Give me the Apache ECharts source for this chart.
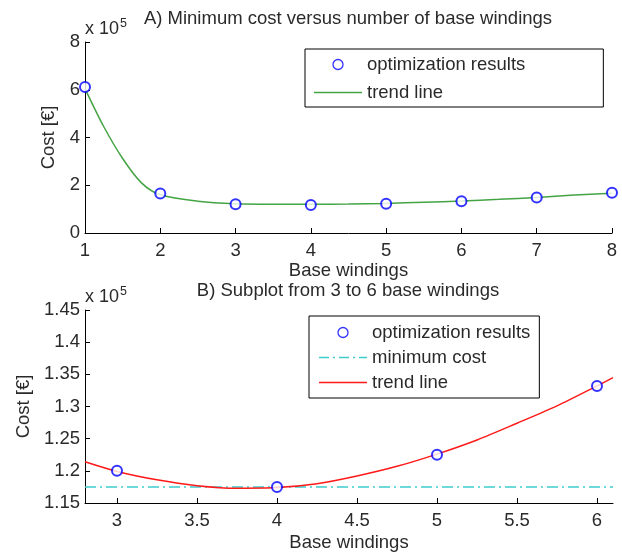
<!DOCTYPE html>
<html>
<head>
<meta charset="utf-8">
<script src="https://cdn.jsdelivr.net/npm/echarts@6/dist/echarts.min.js"></script>
<style>
  html, body { margin: 0; padding: 0; background: #ffffff; }
  #chart { width: 622px; height: 553px; }
</style>
</head>
<body>
<div id="chart"></div>
<script>
// Number of base windings and optimised cost (EUR)
const windings = [1, 2, 3, 4, 5, 6, 7, 8];
const optimalCost = [612000, 165000, 120000, 117500, 122500, 133200, 149000, 169000];

// Fitted trend over the full range (x, EUR)
const trendX = [1, 1.25, 1.5, 1.75, 2, 2.5, 3, 3.5, 4, 4.5, 5, 5.5, 6, 6.5, 7, 7.5, 8];
const trendCost = [605000, 445000, 312000, 210000, 160000, 133000, 122000, 120000, 120000, 121000, 124000, 129000, 134000, 141000, 149000, 159000, 167000];

// Close-up between 3 and 6 windings
const zoomWindings = [3, 4, 5, 6];
const zoomCost = [120000, 117500, 122500, 133200];
const zoomTrendX = [2.8, 3, 3.25, 3.5, 3.75, 4, 4.25, 4.5, 4.75, 5, 5.25, 5.5, 5.75, 6, 6.1];
const zoomTrendCost = [121400, 119900, 118600, 117700, 117300, 117400, 118000, 119200, 120700, 122600, 124800, 127400, 130100, 133200, 134500];
const minimumCost = 117500;

// Tick labels
const topYTicks = ['0', '2', '4', '6', '8'];
const bottomXTicks = [3, 3.5, 4, 4.5, 5, 5.5, 6];

const FONT = '"Liberation Sans", Arial, sans-serif';
const TEXT = '#2a2a2a';
const FS = 18.5;

const GREEN = '#44a444';
const RED = '#ff1a1a';
const CYAN = '#3ecccc';
const BLUE = '#0000ff';

const pair = (xs, ys) => xs.map((x, i) => [x, ys[i]]);

function baseAxis(extra) {
  return Object.assign({
    type: 'value',
    splitLine: { show: false },
    axisLine: { show: true, onZero: false, lineStyle: { color: '#000', width: 1 } },
    axisTick: { show: true, inside: true, length: 5, lineStyle: { color: '#000' } },
    axisLabel: { color: TEXT, fontFamily: FONT, fontSize: FS },
    nameTextStyle: { color: TEXT, fontFamily: FONT, fontSize: FS }
  }, extra);
}

const chart = echarts.init(document.getElementById('chart'), null, { renderer: 'canvas' });

// Legend glyphs: a small ring, a plain stroke and a dash-dot stroke
const ringIcon = 'path://M2,7a5,5 0 1,0 10,0a5,5 0 1,0 -10,0M0,0M14,14';
const solidIcon = 'path://M0,0h48v1.5h-48z';
const dashDotIcon = 'path://M0,0h10v1.5h-10zM14,0h2v1.5h-2zM20,0h10v1.5h-10zM34,0h2v1.5h-2zM40,0h8v1.5h-8z';

const legendText = { color: TEXT, fontFamily: FONT, fontSize: FS };
const resultsItem = {
  name: 'optimization results', icon: ringIcon,
  itemStyle: { color: 'transparent', borderColor: BLUE, borderWidth: 1.3 }
};
const lineItem = (name, icon, color) => ({
  name, icon, itemStyle: { color, borderWidth: 0 }
});
const supRich = { s: { fontSize: 12.5, fontFamily: FONT, fill: TEXT, verticalAlign: 'top', padding: [0, 0, 11, 1] } };

chart.setOption({
  animation: false,
  backgroundColor: '#ffffff',
  title: [
    {
      text: 'A) Minimum cost versus number of base windings',
      left: 348, top: 9, textAlign: 'center', padding: 0,
      textStyle: { color: TEXT, fontFamily: FONT, fontSize: FS, fontWeight: 'normal' }
    },
    {
      text: 'B) Subplot from 3 to 6 base windings',
      left: 348, top: 281, textAlign: 'center', padding: 0,
      textStyle: { color: TEXT, fontFamily: FONT, fontSize: FS, fontWeight: 'normal' }
    }
  ],
  grid: [
    { left: 85, top: 42, width: 527, height: 191 },
    { left: 85, top: 310, width: 528, height: 193 }
  ],
  xAxis: [
    baseAxis({
      gridIndex: 0, min: 1, max: 8, interval: 1,
      name: 'Base windings', nameLocation: 'middle', nameGap: 28
    }),
    baseAxis({
      gridIndex: 1, min: 2.8, max: 6.1,
      axisTick: { show: true, inside: true, length: 5, lineStyle: { color: '#000' }, customValues: bottomXTicks },
      axisLabel: { color: TEXT, fontFamily: FONT, fontSize: FS, customValues: bottomXTicks },
      name: 'Base windings', nameLocation: 'middle', nameGap: 30
    })
  ],
  yAxis: [
    baseAxis({
      gridIndex: 0, min: 0, max: 800000, interval: 200000,
      axisLabel: { color: TEXT, fontFamily: FONT, fontSize: FS, margin: 5,
        formatter: v => topYTicks[Math.round(v / 200000)] },
      name: 'Cost [€]', nameLocation: 'middle', nameGap: 20
    }),
    baseAxis({
      gridIndex: 1, min: 115000, max: 145000, interval: 5000,
      axisLabel: { color: TEXT, fontFamily: FONT, fontSize: FS, margin: 5,
        formatter: v => String(+(v / 1e5).toFixed(2)) },
      name: 'Cost [€]', nameLocation: 'middle', nameGap: 52
    })
  ],
  legend: [
    {
      orient: 'vertical', left: 305, top: 49,
      selectedMode: false,
      itemWidth: 48, itemHeight: 14, itemGap: 9,
      padding: [6, 78, 5, 9],
      borderColor: '#000', borderWidth: 1,
      textStyle: legendText,
      data: [
        resultsItem,
        lineItem('trend line', solidIcon, GREEN)
      ]
    },
    {
      orient: 'vertical', left: 309, top: 316,
      selectedMode: false,
      itemWidth: 48, itemHeight: 14, itemGap: 6,
      padding: [7, 9, 6, 10],
      borderColor: '#000', borderWidth: 1,
      textStyle: legendText,
      data: [
        resultsItem,
        lineItem('minimum cost', dashDotIcon, CYAN),
        lineItem('trend line', solidIcon, RED)
      ]
    }
  ],
  graphic: [
    {
      type: 'text', left: 85, top: 17,
      style: { text: 'x 10{s|5}', fill: TEXT, font: '18px ' + FONT, rich: supRich }
    },
    {
      type: 'text', left: 85, top: 285,
      style: { text: 'x 10{s|5}', fill: TEXT, font: '18px ' + FONT, rich: supRich }
    }
  ],
  series: [
    {
      name: 'trend line', type: 'line', xAxisIndex: 0, yAxisIndex: 0,
      data: pair(trendX, trendCost), smooth: 0.3, symbol: 'none',
      lineStyle: { color: GREEN, width: 1.5 }, itemStyle: { color: GREEN }, z: 2
    },
    {
      name: 'optimization results', type: 'scatter', xAxisIndex: 0, yAxisIndex: 0,
      data: pair(windings, optimalCost), symbol: 'emptyCircle', symbolSize: 10,
      itemStyle: { color: BLUE, borderColor: BLUE, borderWidth: 1.3 }, z: 3
    },
    {
      name: 'minimum cost', type: 'line', xAxisIndex: 1, yAxisIndex: 1,
      data: [[2.8, minimumCost], [6.1, minimumCost]], symbol: 'none',
      lineStyle: { color: CYAN, width: 1.5, type: [11, 4, 2, 4] },
      itemStyle: { color: CYAN }, z: 2
    },
    {
      name: 'trend line', type: 'line', xAxisIndex: 1, yAxisIndex: 1,
      data: pair(zoomTrendX, zoomTrendCost), smooth: 0.3, symbol: 'none',
      lineStyle: { color: RED, width: 1.5 }, itemStyle: { color: RED }, z: 2
    },
    {
      name: 'optimization results', type: 'scatter', xAxisIndex: 1, yAxisIndex: 1,
      data: pair(zoomWindings, zoomCost), symbol: 'emptyCircle', symbolSize: 10,
      itemStyle: { color: BLUE, borderColor: BLUE, borderWidth: 1.3 }, z: 3
    }
  ]
});
</script>
</body>
</html>
